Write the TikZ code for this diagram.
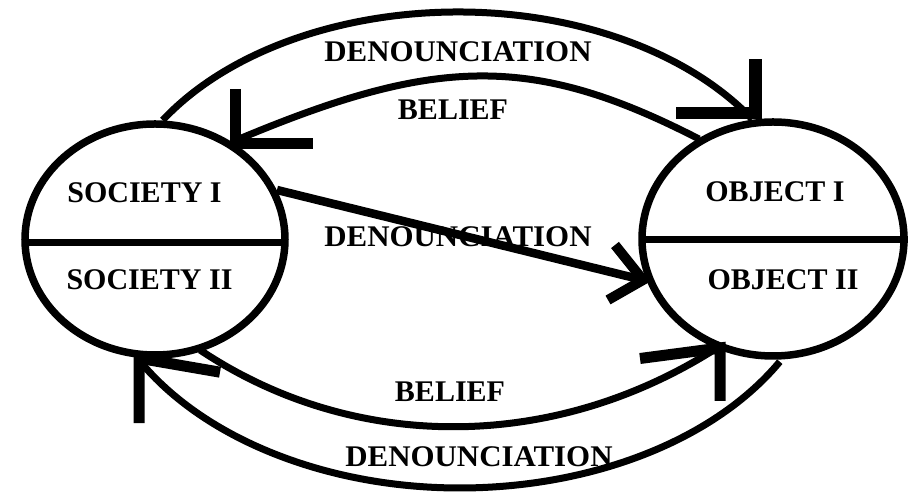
\documentclass[tikz,border=0pt]{standalone}
\usepackage{fontspec}
\setmainfont{Liberation Serif}
\usetikzlibrary{shapes.geometric}
\begin{document}
\begin{tikzpicture}[x=1pt,y=1pt,
  oval/.style={ellipse, draw, line width=7.5pt, inner sep=0pt, outer sep=0pt},
  divider/.style={line width=7pt},
  lbl/.style={font=\fontsize{30}{30}\selectfont\bfseries, anchor=base, inner sep=0pt},
  widelbl/.style={lbl, xscale=1.03},
  arcline/.style={line width=7pt},
  shaft/.style={line width=8.5pt},
  headline/.style={line width=11pt, line join=miter, line cap=butt},
]
\useasboundingbox (0,0) rectangle (911,497);

% the two groups
\node[oval, minimum width=260pt, minimum height=231pt] (soc) at (155,257.5) {};
\node[oval, minimum width=262pt, minimum height=234pt] (obj) at (773,258) {};
\draw[divider] ([yshift=-3.5pt]soc.west) -- ([yshift=-3.5pt]soc.east);
\draw[divider] ([yshift=-1pt]obj.west) -- ([xshift=4pt,yshift=-1pt]obj.east);

% labels
\node[lbl] (s1) at (144.5,294) {SOCIETY I};
\node[lbl] (s2) at (149.5,207) {SOCIETY II};
\node[lbl] (o1) at (775,295) {OBJECT I};
\node[lbl] (o2) at (783,207) {OBJECT II};
\node[widelbl] (d1) at (458,435) {DENOUNCIATION};
\node[lbl] (b1) at (453,377) {BELIEF};
\node[widelbl] (d2) at (458,250) {DENOUNCIATION};
\node[lbl] (b2) at (450,95) {BELIEF};
\node[widelbl] (d3) at (479,30) {DENOUNCIATION};

% top outer: denounciation, society -> object
\coordinate (a1s) at (162.7,376.8);
\coordinate (a1e) at (752.3,377.8);
\draw[arcline] (a1s) arc[start angle=148.3, end angle=32, x radius=347pt, y radius=228pt];
\draw[headline, line width=12.5pt] ([shift={(3,60)}]a1e) -- ([shift={(3,6)}]a1e) -- ([shift={(-76,6)}]a1e);

% top inner: belief, object -> society
\coordinate (b1s) at (699,358);
\coordinate (b1e) at (232,355);
\draw[arcline] (b1s) .. controls (530,445) and (433,440) .. (b1e);
\draw[headline] ([shift={(3.5,53)}]b1e) -- ([shift={(3.5,-1.5)}]b1e) -- ([shift={(81,-1.5)}]b1e);

% middle: denounciation, society -> object
\coordinate (m1) at (277,307);
\coordinate (m2) at (643,217);
\draw[shaft] (m1) -- (m2);
\draw[headline, line width=10pt] ([shift={(-28,35)}]m2) -- (m2) -- ([shift={(-35,-20)}]m2);

% bottom inner: belief, society -> object
\coordinate (b2s) at (200,147);
\coordinate (b2e) at (720,151);
\draw[arcline] (b2s) .. controls (354,44) and (555,44) .. (b2e);
\draw[headline] ([shift={(-80,-12.5)}]b2e) -- ([shift={(0,-2)}]b2e) -- ([shift={(0,-55)}]b2e);

% bottom outer: denounciation, object -> society
\coordinate (d3s) at (779.8,135.3);
\coordinate (d3e) at (139,136.8);
\draw[arcline] (d3s) arc[start angle=-29.4, end angle=-151, x radius=367pt, y radius=248pt];
\draw[headline] ([shift={(81,-12)}]d3e) -- ([shift={(0,2)}]d3e) -- ([shift={(0,-63)}]d3e);
\end{tikzpicture}
\end{document}
